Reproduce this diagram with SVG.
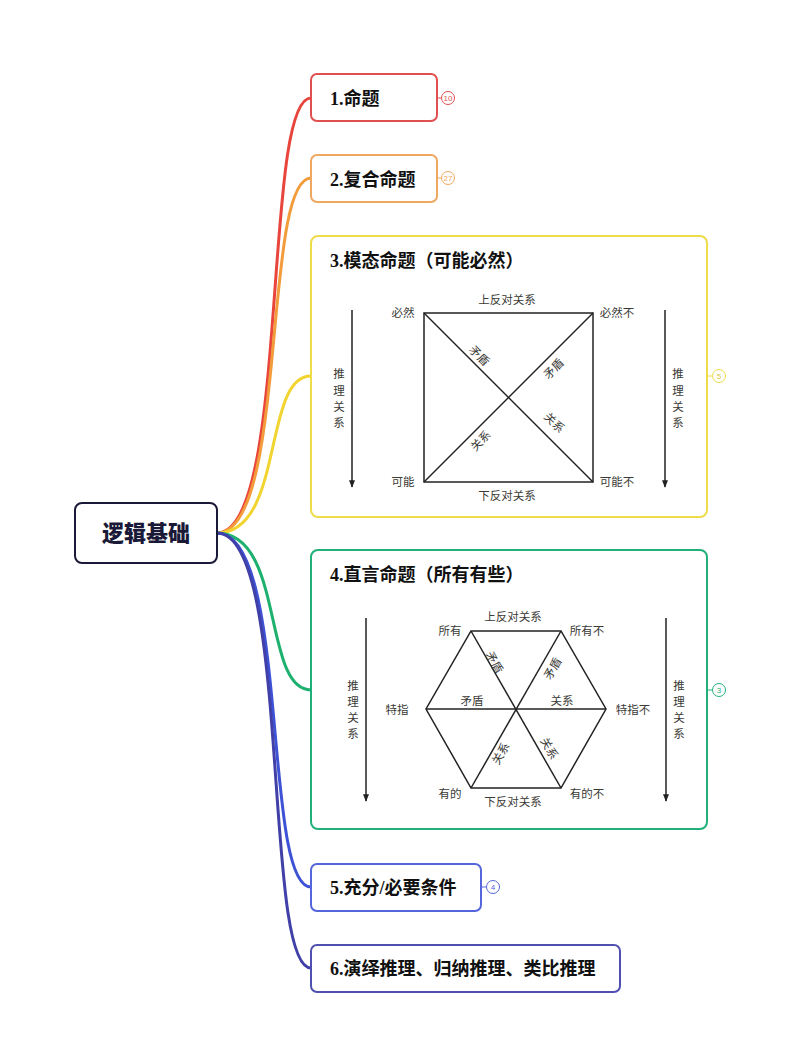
<svg xmlns="http://www.w3.org/2000/svg" width="800" height="1044" viewBox="0 0 800 1044">
<style>
.box{fill:#fff;stroke-width:2}
.ttl{font-family:"Liberation Serif","Noto Sans CJK SC",serif;font-weight:bold;font-size:18px;fill:#111}
.lbl{font-family:"Noto Sans CJK SC",sans-serif;font-size:11.5px;fill:#3a3a36;text-anchor:middle;dominant-baseline:central}
.dg{stroke:#222;stroke-width:1.5;fill:none}
.arr{stroke:#222;stroke-width:1.5;fill:none;marker-end:url(#ah)}
.badge{fill:#fff;stroke-width:1}
.bt{font-family:"Liberation Sans",sans-serif;font-size:8px;text-anchor:middle;dominant-baseline:central}
.con{fill:none;stroke-width:3;stroke-linecap:round}
</style>
<defs>
<marker id="ah" viewBox="0 0 10 10" refX="9" refY="5" markerWidth="5" markerHeight="5" orient="auto" markerUnits="strokeWidth">
<path d="M0,1 L10,5 L0,9 z" fill="#222"/>
</marker>
</defs>
<rect width="800" height="1044" fill="#fff"/>

<g id="connectors">
<path class="con" stroke="#e8453c" d="M217,533 C290,533 262,98 311,98"/>
<path class="con" stroke="#f39c3c" d="M217,533 C288,533 262,178 311,178"/>
<path class="con" stroke="#f2d430" d="M217,533 C285,533 262,376 311,376"/>
<path class="con" stroke="#1eb06e" d="M217,533 C285,533 262,690 311,690"/>
<path class="con" stroke="#3d52d5" d="M217,533 C290,533 262,887 311,887"/>
<path class="con" stroke="#4040a8" d="M217,533 C292,533 262,968 311,968"/>
</g>

<g id="root">
<rect x="75" y="503" width="142" height="60" rx="7" fill="#fff" stroke="#1a1a38" stroke-width="2"/>
<text x="146" y="541" text-anchor="middle" font-family="'Noto Sans CJK SC',sans-serif" font-weight="900" font-size="22" fill="#1a1a38">逻辑基础</text>
</g>

<g id="n1">
<rect class="box" x="311" y="74" width="126" height="47" rx="6" stroke="#e05050"/>
<text class="ttl" x="330" y="105">1.命题</text>
<line x1="437" y1="98" x2="441" y2="98" stroke="#e05050"/>
<circle class="badge" cx="448" cy="98" r="6.5" stroke="#e05050"/>
<text class="bt" x="448" y="98" fill="#e05050">10</text>
</g>

<g id="n2">
<rect class="box" x="311" y="155" width="126" height="47" rx="6" stroke="#f0a860"/>
<text class="ttl" x="330" y="186">2.复合命题</text>
<line x1="437" y1="178" x2="441" y2="178" stroke="#f0a860"/>
<circle class="badge" cx="448" cy="178" r="6.5" stroke="#f0a860"/>
<text class="bt" x="448" y="178" fill="#f0a860">27</text>
</g>

<g id="n3">
<rect class="box" x="311" y="236" width="396" height="281" rx="7" stroke="#eedc48"/>
<text class="ttl" x="330" y="267">3.模态命题（可能必然）</text>
<line x1="707" y1="376" x2="712" y2="376" stroke="#eedc48"/>
<circle class="badge" cx="719" cy="376" r="6.5" stroke="#eedc48"/>
<text class="bt" x="719" y="376" fill="#d8c640">5</text>
<rect class="dg" x="424" y="313" width="169" height="169"/>
<line class="dg" x1="424" y1="313" x2="593" y2="482"/>
<line class="dg" x1="424" y1="482" x2="593" y2="313"/>
<line class="arr" x1="352" y1="310" x2="352" y2="487"/>
<line class="arr" x1="665" y1="310" x2="665" y2="487"/>
<text class="lbl" x="507" y="299">上反对关系</text>
<text class="lbl" x="507" y="495">下反对关系</text>
<text class="lbl" x="403" y="312">必然</text>
<text class="lbl" x="617" y="312">必然不</text>
<text class="lbl" x="403" y="481">可能</text>
<text class="lbl" x="617" y="481">可能不</text>
<text class="lbl" transform="translate(480,355) rotate(45)">矛盾</text>
<text class="lbl" transform="translate(553,368) rotate(-45)">矛盾</text>
<text class="lbl" transform="translate(555,422) rotate(45)">关系</text>
<text class="lbl" transform="translate(480,440) rotate(-45)">关系</text>
<text class="lbl" x="339" y="373">推</text>
<text class="lbl" x="339" y="390">理</text>
<text class="lbl" x="339" y="406">关</text>
<text class="lbl" x="339" y="422">系</text>
<text class="lbl" x="678" y="373">推</text>
<text class="lbl" x="678" y="390">理</text>
<text class="lbl" x="678" y="406">关</text>
<text class="lbl" x="678" y="422">系</text>
</g>

<g id="n4">
<rect class="box" x="311" y="550" width="396" height="279" rx="7" stroke="#22b07a"/>
<text class="ttl" x="330" y="581">4.直言命题（所有有些）</text>
<line x1="707" y1="690" x2="712" y2="690" stroke="#22b07a"/>
<circle class="badge" cx="719" cy="690" r="6.5" stroke="#22b07a"/>
<text class="bt" x="719" y="690" fill="#22b07a">3</text>
<polygon class="dg" points="471,631 561,631 606,709 561,788 471,788 426,709"/>
<line class="dg" x1="471" y1="631" x2="561" y2="788"/>
<line class="dg" x1="561" y1="631" x2="471" y2="788"/>
<line class="dg" x1="426" y1="709" x2="606" y2="709"/>
<line class="arr" x1="366" y1="618" x2="366" y2="801"/>
<line class="arr" x1="666" y1="618" x2="666" y2="801"/>
<text class="lbl" x="513" y="616">上反对关系</text>
<text class="lbl" x="513" y="801">下反对关系</text>
<text class="lbl" x="450" y="630">所有</text>
<text class="lbl" x="587" y="630">所有不</text>
<text class="lbl" x="397" y="709">特指</text>
<text class="lbl" x="633" y="709">特指不</text>
<text class="lbl" x="450" y="793">有的</text>
<text class="lbl" x="587" y="793">有的不</text>
<text class="lbl" transform="translate(495,662) rotate(60)">矛盾</text>
<text class="lbl" transform="translate(552,668) rotate(-60)">矛盾</text>
<text class="lbl" x="472" y="700">矛盾</text>
<text class="lbl" x="562" y="700">关系</text>
<text class="lbl" transform="translate(500,753) rotate(-60)">关系</text>
<text class="lbl" transform="translate(550,748) rotate(60)">关系</text>
<text class="lbl" x="353" y="685">推</text>
<text class="lbl" x="353" y="701">理</text>
<text class="lbl" x="353" y="717">关</text>
<text class="lbl" x="353" y="733">系</text>
<text class="lbl" x="679" y="685">推</text>
<text class="lbl" x="679" y="701">理</text>
<text class="lbl" x="679" y="717">关</text>
<text class="lbl" x="679" y="733">系</text>
</g>

<g id="n5">
<rect class="box" x="311" y="864" width="170" height="47" rx="6" stroke="#5566dd"/>
<text class="ttl" x="330" y="894">5.充分/必要条件</text>
<line x1="481" y1="887" x2="486" y2="887" stroke="#5566dd"/>
<circle class="badge" cx="493" cy="887" r="6.5" stroke="#5566dd"/>
<text class="bt" x="493" y="887" fill="#5566dd">4</text>
</g>

<g id="n6">
<rect class="box" x="311" y="945" width="309" height="47" rx="6" stroke="#5050b0"/>
<text class="ttl" x="330" y="975">6.演绎推理、归纳推理、类比推理</text>
</g>
</svg>
